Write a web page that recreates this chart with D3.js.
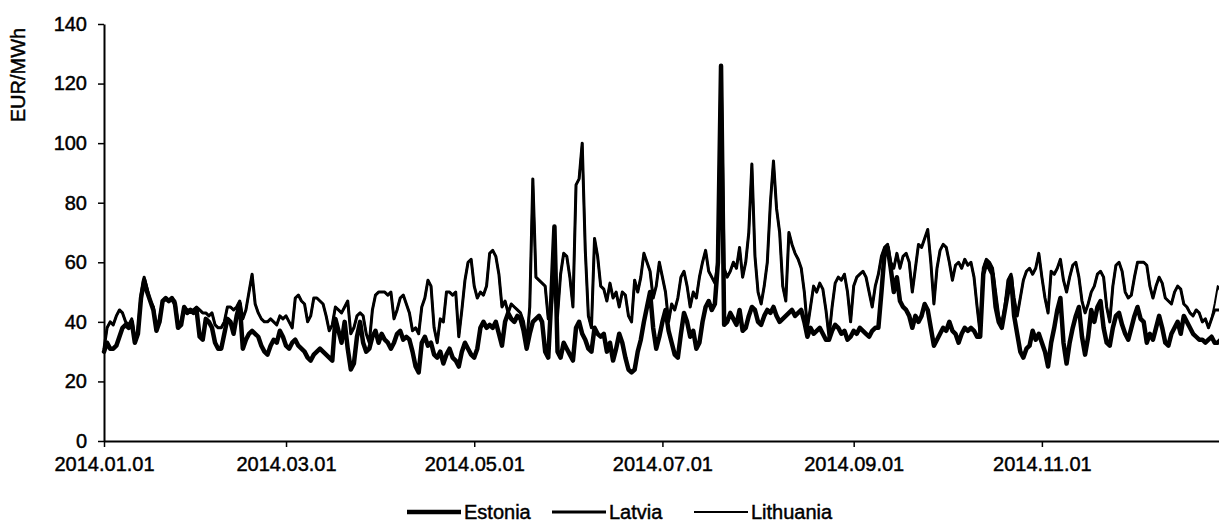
<!DOCTYPE html>
<html>
<head>
<meta charset="utf-8">
<script src="https://cdn.jsdelivr.net/npm/d3@7"></script>
<style>
  html, body { margin: 0; padding: 0; background: #fff; }
  svg { display: block; }
  text { font-family: "Liberation Sans", Arial, sans-serif; fill: #000; stroke: #000; stroke-width: 0.45px; }
</style>
</head>
<body>
<div id="chart"></div>
<script>
// ---------------- data ----------------
const startDate = "2014-01-01";
const endDate = "2014-12-31";
const xTickLabels = ["2014.01.01", "2014.03.01", "2014.05.01", "2014.07.01", "2014.09.01", "2014.11.01"];
const yTicks = [0, 20, 40, 60, 80, 100, 120, 140];
const yLabel = "EUR/MWh";
const seriesNames = ["Estonia", "Latvia", "Lithuania"];

// daily prices, 2014-01-01 .. 2014-12-31
const estonia = [
  30,33,31,31,32,35,38,39,38,40,33,
  36,48,54,50,47,44,37,40,47,48,
  47,48,46,38,39,45,43,44,43,44,
  35,34,41,40,38,33,31,31,36,41,
  40,36,42,46,31,34,36,37,36,35,
  32,30,29,32,34,33,37,35,32,31,
  33,34,32,31,30,28,27,29,30,31,
  30,29,28,27,41,37,33,40,31,24,
  26,35,40,33,30,31,35,37,33,36,
  34,33,31,33,36,37,34,35,34,30,
  25,23,33,35,32,33,29,28,30,26,
  29,31,28,27,25,30,33,31,29,28,
  31,38,40,38,39,38,40,36,32,40,
  43,41,40,42,41,37,31,36,40,41,
  42,40,30,28,48,72,30,28,33,31,
  29,27,38,40,36,34,31,30,38,36,
  35,36,30,33,27,31,36,33,28,24,
  23,24,30,34,40,45,50,38,31,35,
  40,44,37,33,29,28,36,43,40,35,
  37,31,33,40,45,47,44,46,60,126,
  39,40,43,41,39,44,37,38,42,45,
  44,40,39,42,44,43,45,42,40,41,
  42,43,44,42,43,44,40,35,38,36,
  37,38,36,34,34,37,39,38,36,37,
  34,35,37,36,38,37,36,35,37,38,
  38,50,63,65,58,50,55,47,45,44,
  42,38,42,40,42,46,44,38,32,34,
  36,38,37,40,37,36,33,36,38,37,
  38,37,35,35,56,60,58,56,45,40,
  38,44,50,55,42,36,30,28,31,32,
  37,34,36,33,30,25,33,38,44,48,
  33,26,33,38,42,45,35,29,35,44,
  40,45,47,38,33,32,38,42,43,39,
  36,34,38,42,45,41,40,33,36,34,
  38,42,38,33,32,36,38,40,36,42,
  40,38,36,35,34,34,33,34,35,33,33,34,33,33
];
const latvia = [
  31,38,40,39,42,44,43,40,39,41,34,
  37,49,55,51,47,45,38,41,47,48,
  47,48,47,39,40,45,44,44,44,45,
  44,43,43,42,43,39,38,38,40,45,
  45,44,45,47,41,44,50,56,46,43,
  41,40,40,41,40,39,42,41,42,40,
  38,48,49,47,46,40,42,48,48,47,
  46,42,37,39,45,44,43,45,47,36,
  38,42,43,42,36,33,44,49,50,50,
  50,49,50,41,44,48,49,46,43,37,
  38,36,45,48,54,52,38,33,41,40,
  50,50,49,50,35,44,54,60,61,52,
  48,50,49,52,63,64,62,56,45,47,
  43,46,45,44,43,40,33,45,88,55,
  54,53,52,41,45,60,42,56,63,62,
  55,45,86,88,100,64,42,38,68,62,
  52,51,47,53,48,50,45,50,49,42,
  40,54,50,55,63,60,57,48,52,60,
  55,50,40,46,44,48,55,57,52,45,
  50,48,55,60,64,57,55,53,60,126,
  58,55,57,60,58,65,55,60,70,93,
  62,50,46,52,60,80,94,78,70,52,
  47,70,66,63,61,58,50,38,45,52,
  50,53,51,44,35,45,53,55,54,56,
  50,40,52,55,56,57,55,50,45,52,
  56,62,65,66,60,58,63,58,62,63,
  60,50,58,66,65,68,71,60,46,58,
  64,66,65,60,54,59,60,58,61,59,
  60,55,45,36,58,61,60,58,50,42,
  39,45,54,56,48,42,48,54,57,58,
  56,58,63,55,48,43,57,56,58,61,
  54,50,55,59,60,55,47,43,46,50,
  52,56,57,55,45,40,52,59,60,57,
  50,48,49,55,60,60,60,59,52,48,
  52,55,53,48,47,46,50,52,51,46,
  45,43,42,44,43,40,41,38,41,44,44,44,43,43
];
const lithuania = [
  31,38,40,39,42,44,43,40,39,41,34,
  37,49,55,51,47,45,38,41,47,48,
  47,48,47,39,40,45,44,44,44,45,
  44,43,43,42,43,39,38,38,40,45,
  45,44,45,47,41,44,50,56,46,43,
  41,40,40,41,40,39,42,41,42,40,
  38,48,49,47,46,40,42,48,48,47,
  46,42,37,39,45,44,43,45,47,36,
  38,42,43,42,36,33,44,49,50,50,
  50,49,50,41,44,48,49,46,43,37,
  38,36,45,48,54,52,38,33,41,40,
  50,50,49,50,35,44,54,60,61,52,
  48,50,49,52,63,64,62,56,45,47,
  43,46,45,44,43,40,33,45,88,55,
  54,53,52,41,45,60,42,56,63,62,
  55,45,86,88,100,64,42,38,68,62,
  52,51,47,53,48,50,45,50,49,42,
  40,54,50,55,63,60,57,48,52,60,
  55,50,40,46,44,48,55,57,52,45,
  50,48,55,60,64,57,55,53,60,126,
  58,55,57,60,58,65,55,60,70,93,
  62,50,46,52,60,80,94,78,70,52,
  47,70,66,63,61,58,50,38,45,52,
  50,53,51,44,35,45,53,55,54,56,
  50,40,52,55,56,57,55,50,45,52,
  56,62,65,66,60,58,63,58,62,63,
  60,50,58,66,65,68,71,60,46,58,
  64,66,65,60,54,59,60,58,61,59,
  60,55,45,36,58,61,60,58,50,42,
  39,45,54,56,48,42,48,54,57,58,
  56,58,63,55,48,43,57,56,58,61,
  54,50,55,59,60,55,47,43,46,50,
  52,56,57,55,45,40,52,59,60,57,
  50,48,49,55,60,60,60,59,52,48,
  52,55,53,48,47,46,50,52,51,46,
  45,43,42,44,43,40,41,38,41,46,52,50,45,44
];

// ---------------- layout ----------------
const W = 1219, H = 523;
const plot = { left: 104, top: 24, bottom: 441, right: 1227 };
const widths = { Estonia: 4.5, Latvia: 3, Lithuania: 2 };
const fontSize = 20;

const parse = d3.utcParse("%Y-%m-%d");
const parseTick = d3.utcParse("%Y.%m.%d");
const fmt = d3.utcFormat("%Y.%m.%d");
const t0 = parse(startDate);
const dates = estonia.map((_, i) => d3.utcDay.offset(t0, i));

const x = d3.scaleUtc().domain([t0, parse(endDate)]).range([plot.left, plot.right]);
const y = d3.scaleLinear().domain([0, 140]).range([plot.bottom, plot.top]);

const svg = d3.select("#chart").append("svg")
  .attr("width", W).attr("height", H)
  .style("background", "#fff");

svg.append("clipPath").attr("id", "clip")
  .append("rect").attr("x", 0).attr("y", 0).attr("width", W).attr("height", plot.bottom + 2);

const lineGen = d3.line()
  .x((d, i) => x(dates[i]))
  .y(d => y(d));

const seriesData = [
  { name: "Estonia", values: estonia },
  { name: "Latvia", values: latvia },
  { name: "Lithuania", values: lithuania }
];

svg.append("g").attr("clip-path", "url(#clip)")
  .selectAll("path").data(seriesData).join("path")
  .attr("d", d => lineGen(d.values))
  .attr("fill", "none")
  .attr("stroke", "#000")
  .attr("stroke-width", d => widths[d.name])
  .attr("stroke-linejoin", "round")
  .attr("stroke-linecap", "round");

// y axis
const yAxis = svg.append("g")
  .attr("transform", `translate(${plot.left},0)`)
  .call(d3.axisLeft(y).tickValues(yTicks).tickSize(6).tickSizeOuter(0).tickPadding(11));
yAxis.select(".domain").attr("stroke", "#000").attr("stroke-width", 2);
yAxis.selectAll(".tick line").attr("stroke", "#000").attr("stroke-width", 1.5);
yAxis.selectAll("text").attr("font-size", fontSize).attr("font-family", '"Liberation Sans", Arial, sans-serif');

// x axis
const xAxis = svg.append("g")
  .attr("transform", `translate(0,${plot.bottom})`)
  .call(d3.axisBottom(x).tickValues(xTickLabels.map(parseTick)).tickFormat(fmt)
    .tickSize(6).tickSizeOuter(0).tickPadding(10));
xAxis.select(".domain").attr("stroke", "#000").attr("stroke-width", 2);
xAxis.selectAll(".tick line").attr("stroke", "#000").attr("stroke-width", 1.5);
xAxis.selectAll("text").attr("font-size", fontSize).attr("font-family", '"Liberation Sans", Arial, sans-serif');

// y label
svg.append("text")
  .attr("transform", "translate(25,75) rotate(-90)")
  .attr("text-anchor", "middle")
  .attr("font-size", fontSize)
  .text(yLabel);

// legend
const legendX = [407, 552, 694];
const legendY = 512;
const legend = svg.append("g");
seriesData.forEach((s, i) => {
  const g = legend.append("g").attr("transform", `translate(${legendX[i]},${legendY})`);
  g.append("line").attr("x1", 0).attr("x2", 54).attr("y1", 0).attr("y2", 0)
    .attr("stroke", "#000").attr("stroke-width", widths[s.name]);
  g.append("text").attr("x", 57).attr("y", 0).attr("dy", "0.35em")
    .attr("font-size", fontSize).text(s.name);
});
</script>
</body>
</html>
